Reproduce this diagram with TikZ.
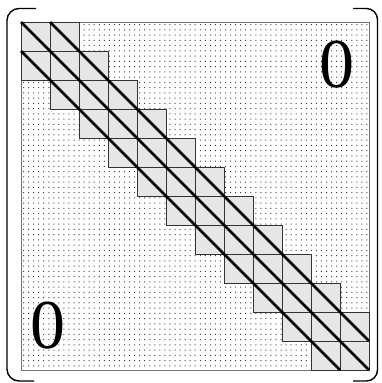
\documentclass[tikz,border=0pt]{standalone}
\usepackage{fontspec}
\setmainfont{Liberation Serif}
\definecolor{cellgray}{HTML}{E6E6E6}
\begin{document}
\begin{tikzpicture}[x=1pt,y=-1pt,
  cellfill/.style={fill=cellgray},
  celledge/.style={draw=black!80,line width=0.9pt},
  dotfill/.style={fill=black!75},
  diag/.style={line width=2.8pt},
  bracket/.style={line width=1.4pt},
  zero/.style={font=\fontsize{70}{70}\selectfont,inner sep=0pt}]
\useasboundingbox (0,0) rectangle (382,383);
\fill[white] (0,0) rectangle (382,383);
% dotted matrix body
\foreach \r in {0,...,65}{
  \fill[dotfill] foreach \c in {0,...,68}{ ({23+5.05*\c},{24+5.25*\r}) rectangle ++(1,1) };
}
\draw[black!55, line width=0.6pt] (21,22) rectangle (369,370);
% band cells: fills
\foreach \i in {0,...,11}{
  \foreach \d in {-1,0,1}{
    \pgfmathtruncatemacro\j{\i+\d}
    \ifnum\j>-1 \ifnum\j<12
      \fill[cellfill] ({21+29*\j},{22+29*\i}) rectangle ++(29,29);
    \fi\fi
  }
}
% band cells: edges
\foreach \i in {0,...,11}{
  \foreach \d in {-1,0,1}{
    \pgfmathtruncatemacro\j{\i+\d}
    \ifnum\j>-1 \ifnum\j<12
      \draw[celledge] ({21+29*\j},{22+29*\i}) rectangle ++(29,29);
    \fi\fi
  }
}
% diagonals
\coordinate (m1) at (21,22);
\coordinate (m2) at (369,370);
\coordinate (s1) at (50,22);
\coordinate (s2) at (369,341);
\coordinate (b1) at (21,51);
\coordinate (b2) at (340,370);
\draw[diag] (m1) -- (m2);
\draw[diag] (s1) -- (s2);
\draw[diag] (b1) -- (b2);
% brackets
\draw[bracket, rounded corners=12pt] (36,8.5) -- (7,8.5) -- (7,381) -- (34,381);
\draw[bracket, rounded corners=11pt] (353,8.5) -- (377.5,8.5) -- (377.5,381) -- (353,381);
% zeros
\node[zero] (ztr) at (337,65) {0};
\node[zero] (zbl) at (48,326) {0};
\end{tikzpicture}
\end{document}
